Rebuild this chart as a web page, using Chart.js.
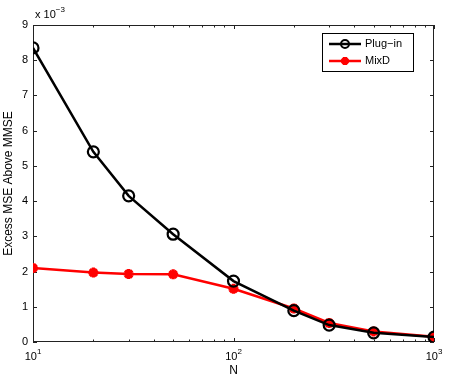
<!DOCTYPE html>
<html><head><meta charset="utf-8">
<script src="https://cdn.jsdelivr.net/npm/chart.js@4/dist/chart.umd.min.js"></script>
<style>html,body{margin:0;padding:0;background:#fff}#wrap{width:451px;height:381px}</style>
</head><body><div id="wrap"><canvas id="c" width="451" height="381"></canvas></div>
<script>
const N = [10, 20, 30, 50, 100, 200, 300, 500, 1000];
const plugIn = [8.35, 5.40, 4.15, 3.06, 1.73, 0.89, 0.48, 0.26, 0.14];
const mixD = [2.10, 1.97, 1.93, 1.92, 1.51, 0.95, 0.54, 0.30, 0.15];
const yTicks = [0,1,2,3,4,5,6,7,8,9];
const xMajor = [10, 100, 1000];
const xExp = ['1','2','3'];
const FONT = '"Liberation Sans", Arial, sans-serif';

const axesPlugin = {
  id: 'matlabAxes',
  beforeDatasetsDraw(chart) {
    const ctx = chart.ctx, a = chart.chartArea, xs = chart.scales.x, ys = chart.scales.y;
    ctx.save();
    ctx.strokeStyle = '#222'; ctx.lineWidth = 1;
    ctx.strokeRect(a.left + 0.5, a.top + 0.5, a.right - a.left - 1, a.bottom - a.top - 1);
    ctx.beginPath();
    yTicks.forEach(v => {
      const y = Math.round(ys.getPixelForValue(v)) + 0.5;
      ctx.moveTo(a.left, y); ctx.lineTo(a.left + 4, y);
      ctx.moveTo(a.right, y); ctx.lineTo(a.right - 4, y);
    });
    for (let d = 10; d <= 1000; d *= 10) {
      for (let m = 1; m <= 9; m++) {
        const v = d * m; if (v > 1000) break;
        const x = Math.round(xs.getPixelForValue(v)) + 0.5;
        const len = m === 1 ? 4 : 2.5;
        ctx.moveTo(x, a.bottom); ctx.lineTo(x, a.bottom - len);
        ctx.moveTo(x, a.top); ctx.lineTo(x, a.top + len);
      }
    }
    ctx.stroke();
    ctx.fillStyle = '#000';
    ctx.textBaseline = 'alphabetic';
    xMajor.forEach((v, i) => {
      const x = xs.getPixelForValue(v);
      ctx.font = '11px ' + FONT;
      const w1 = ctx.measureText('10').width;
      ctx.font = '8px ' + FONT;
      const w2 = ctx.measureText(xExp[i]).width;
      const x0 = x - (w1 + w2) / 2;
      ctx.font = '11px ' + FONT; ctx.textAlign = 'left';
      ctx.fillText('10', x0, a.bottom + 18);
      ctx.font = '8px ' + FONT;
      ctx.fillText(xExp[i], x0 + w1, a.bottom + 12);
    });
    ctx.font = '11px ' + FONT; ctx.textAlign = 'left';
    ctx.fillText('x 10', a.left + 2, a.top - 7);
    const wm = ctx.measureText('x 10').width;
    ctx.font = '8px ' + FONT;
    ctx.fillText('\u22123', a.left + 2 + wm, a.top - 13);
    ctx.restore();
  },
  afterDatasetsDraw(chart) {
    const ctx = chart.ctx;
    ctx.save();
    const bx = 322, by = 33, bw = 91, bh = 38;
    ctx.fillStyle = '#fff'; ctx.fillRect(bx, by, bw, bh);
    ctx.strokeStyle = '#000'; ctx.lineWidth = 1;
    ctx.strokeRect(bx + 0.5, by + 0.5, bw, bh);
    const items = [
      {label: 'Plug\u2212in', color: '#000', style: 'circle'},
      {label: 'MixD', color: '#ff0000', style: 'star'}
    ];
    items.forEach((it, i) => {
      const y = by + 11 + i * 17;
      ctx.strokeStyle = it.color; ctx.lineWidth = 2.5;
      ctx.beginPath(); ctx.moveTo(bx + 7, y); ctx.lineTo(bx + 39, y); ctx.stroke();
      ctx.fillStyle = it.style === 'circle' ? 'rgba(0,0,0,0)' : it.color;
      ctx.strokeStyle = it.color;
      ctx.lineWidth = it.style === 'circle' ? 2 : 3;
      Chart.helpers.drawPoint(ctx, {pointStyle: it.style, radius: 4, rotation: 0, borderWidth: ctx.lineWidth}, bx + 23, y);
      ctx.fillStyle = '#000';
      ctx.font = '11px ' + FONT; ctx.textAlign = 'left'; ctx.textBaseline = 'middle';
      ctx.fillText(it.label, bx + 43, y);
    });
    ctx.restore();
  }
};

new Chart(document.getElementById('c'), {
  type: 'line',
  data: {
    labels: N,
    datasets: [
      {label: 'Plug-in', data: N.map((n, i) => ({x: n, y: plugIn[i]})), borderColor: '#000', backgroundColor: '#fff',
       borderWidth: 2.5, pointStyle: 'circle', pointRadius: 5.5, pointBorderWidth: 2.2, pointBackgroundColor: 'rgba(0,0,0,0)', pointBorderColor: '#000', tension: 0},
      {label: 'MixD', data: N.map((n, i) => ({x: n, y: mixD[i]})), borderColor: '#ff0000', backgroundColor: '#ff0000',
       borderWidth: 2.5, pointStyle: 'star', pointRadius: 5, pointBorderWidth: 3.2, pointBackgroundColor: '#ff0000', pointBorderColor: '#ff0000', tension: 0}
    ]
  },
  options: {
    responsive: false, animation: false, devicePixelRatio: 1,
    layout: {padding: {top: 25, right: 17, left: 0, bottom: 0}},
    plugins: {legend: {display: false}, tooltip: {enabled: false}},
    scales: {
      x: {type: 'logarithmic', min: 10, max: 1000,
          grid: {display: false, drawTicks: false}, border: {display: false},
          ticks: {display: false},
          title: {display: true, text: 'N', font: {family: FONT, size: 12}, color: '#000', padding: {top: 0, bottom: 3}},
          afterFit(s) { s.height = 39; }},
      y: {min: 0, max: 9,
          grid: {display: false, drawTicks: false}, border: {display: false},
          ticks: {stepSize: 1, color: '#000', font: {family: FONT, size: 11}, padding: 5},
          title: {display: true, text: 'Excess MSE Above MMSE', font: {family: FONT, size: 12}, color: '#000', padding: {top: 1, bottom: 0}},
          afterFit(s) { s.width = 33; }}
    }
  },
  plugins: [axesPlugin]
});
</script></body></html>
